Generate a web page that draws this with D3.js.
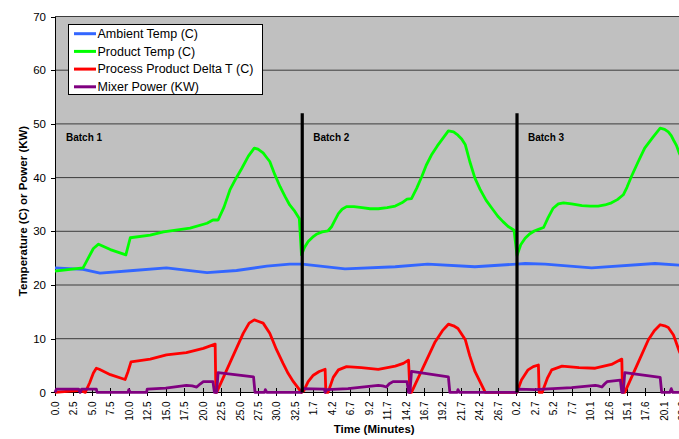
<!DOCTYPE html>
<html>
<head>
<meta charset="utf-8">
<script src="https://cdn.jsdelivr.net/npm/d3@7"></script>
<style>
	body { margin: 0; background: #fff; }
	svg { display: block; font-family: "Liberation Sans", Arial, sans-serif; }
	.plot-background { fill: #c0c0c0; }
	.grid line { stroke: #3c3c3c; stroke-width: 1; }
	.axis path, .axis line { stroke: #000; stroke-width: 1; shape-rendering: crispEdges; }
	.axis text { fill: #000; }
	.series { fill: none; stroke-width: 2.8; stroke-linejoin: round; }
	.batch-line { stroke: #000; stroke-width: 3.2; }
	.batch-label { font-size: 10px; font-weight: bold; }
	.axis-title { font-size: 11.5px; font-weight: bold; }
	.legend-box { fill: #fff; stroke: #000; stroke-width: 1; }
	.legend text { font-size: 12.5px; }
</style>
</head>
<body>
<svg id="plot" width="679" height="439"></svg>
<script>

// tick labels, one every 25 samples (time in minutes, restarts each batch)
const TIME_LABELS = ['0.0', '2.5', '5.0', '7.5', '10.0', '12.5', '15.0', '17.5', '20.0', '22.5', '25.0', '27.5', '30.0', '32.5',
	'1.7', '4.2', '6.7', '9.2', '11.7', '14.2', '16.7', '19.2', '21.7', '24.2', '26.7',
	'0.2', '2.7', '5.2', '7.7', '10.1', '12.6', '15.1', '17.6', '20.1', '22.6'];
const SAMPLES_PER_LABEL = 25;
const SAMPLE_COUNT = 865;

const Y_TICKS = [0, 10, 20, 30, 40, 50, 60, 70];

const BATCH_NAMES = ['Batch 1', 'Batch 2', 'Batch 3'];
const BATCH_STARTS = [0, 335, 626];   // sample index where each batch begins
const BATCH_LINE_TOP = 52;            // value at which the separator lines stop

const SERIES_NAMES = ['Ambient Temp (C)', 'Product Temp (C)', 'Process Product Delta T (C)', 'Mixer Power (KW)'];
const SERIES_COLORS = ['#3366ff', '#00ff00', '#ff0000', '#800080'];

// [sample index, value]
const AMBIENT = [[0, 23.2], [38, 22.9], [61, 22.2], [106, 22.7], [151, 23.2], [206, 22.3], [246, 22.7], [287, 23.5],
	[318, 23.9], [335, 23.9], [393, 23.0], [461, 23.4], [505, 23.9], [569, 23.4], [626, 23.9], [637, 24.0],
	[664, 23.9], [727, 23.2], [813, 24.0], [846, 23.7], [865, 23.6]];

const PRODUCT = [[0, 22.6], [38, 23.2], [52, 26.8], [59, 27.6], [75, 26.6], [96, 25.6], [102, 28.8], [129, 29.3],
	[147, 29.9], [183, 30.6], [206, 31.5], [214, 32.1], [221, 32.1], [229, 34.5], [237, 37.7], [245, 39.8],
	[253, 41.7], [262, 44.0], [270, 45.5], [275, 45.3], [282, 44.6], [287, 43.7], [291, 43.0], [298, 40.5],
	[305, 38.3], [312, 36.4], [318, 34.9], [325, 33.7], [331, 32.4],
	[334, 25.6], [338, 27.0], [343, 28.1], [349, 28.9], [355, 29.5], [362, 29.9], [370, 30.1], [375, 30.9],
	[379, 32.0], [384, 33.3], [389, 34.1], [395, 34.6], [405, 34.6], [416, 34.4], [427, 34.2], [438, 34.2],
	[450, 34.4], [461, 34.7], [470, 35.3], [477, 36.0], [483, 36.1], [490, 38.0], [497, 40.2], [503, 42.3],
	[510, 44.2], [518, 45.9], [526, 47.4], [533, 48.7], [540, 48.5], [546, 47.9], [551, 47.2], [556, 46.1],
	[562, 43.0], [569, 39.9], [576, 37.8], [584, 35.8], [592, 34.3], [600, 32.8], [607, 31.8], [614, 30.9],
	[622, 30.2],
	[626, 25.5], [631, 27.5], [637, 28.7], [643, 29.5], [650, 30.1], [656, 30.4], [662, 30.7], [668, 32.5],
	[675, 34.3], [682, 35.1], [689, 35.3], [700, 35.1], [714, 34.8], [725, 34.7], [736, 34.7], [745, 34.9],
	[754, 35.3], [762, 35.9], [770, 36.8], [775, 38.2], [781, 40.2], [790, 42.9], [799, 45.5], [810, 47.5],
	[820, 49.2], [826, 49.0], [831, 48.5], [835, 47.8], [838, 47.0], [842, 46.0], [846, 44.5], [855, 42.0],
	[865, 39.5]];

const DELTA = [[0, 0], [34, 0.4], [41, 0], [47, 1.8], [52, 3.6], [56, 4.5], [60, 4.3], [75, 3.3], [95, 2.4],
	[99, 3.9], [103, 5.7], [129, 6.2], [151, 7.0], [178, 7.4], [201, 8.2], [217, 9.0], [218, 0], [219, 0],
	[237, 5.5], [255, 11.0], [263, 12.9], [270, 13.5], [276, 13.2], [282, 12.9], [291, 11.0], [300, 8.0],
	[309, 5.4], [316, 3.5], [323, 2.0], [334, 0],
	[337, 0.3], [343, 2.0], [350, 3.2], [358, 3.9], [366, 4.3], [367, 0], [370, 0], [377, 2.8], [384, 4.2],
	[395, 4.8], [415, 4.6], [438, 4.3], [461, 4.9], [472, 5.4], [479, 6.0], [481, 0], [483, 0], [499, 4.7],
	[515, 9.4], [525, 11.5], [533, 12.7], [540, 12.4], [546, 11.9], [556, 9.8], [562, 6.8], [569, 3.9],
	[583, 0], [626, 0],
	[629, 1.2], [632, 2.3], [641, 4.2], [648, 4.8], [655, 5.1], [656, 0], [660, 0], [667, 2.6], [673, 4.2],
	[687, 4.9], [710, 4.6], [732, 4.5], [754, 5.2], [768, 6.2], [769, 0], [772, 0], [788, 4.9], [804, 9.8],
	[812, 11.5], [820, 12.6], [826, 12.4], [831, 12.1], [838, 10.7], [846, 7.6], [855, 5.0], [865, 3.0]];

const MIXER = [[0, 0], [2, 0.6], [32, 0.6], [34, 0], [36, 0.6], [56, 0.6], [57, 0], [99, 0], [100, 0.5], [102, 0],
	[124, 0], [125, 0.6], [150, 0.8], [178, 1.3], [186, 1.2], [192, 1.0], [197, 1.6], [201, 2.0], [214, 2.0],
	[216, 0], [219, 0], [221, 3.7], [269, 2.9], [271, 0], [284, 0], [285, 0.5], [287, 0], [334, 0],
	[335, 0.7], [365, 0.6], [366, 0], [368, 0.5], [397, 0.7], [438, 1.3], [444, 1.2], [449, 1.0], [453, 1.6],
	[458, 2.0], [477, 2.0], [479, 0], [481, 0], [483, 3.9], [533, 2.9], [535, 0], [545, 0], [546, 0.5],
	[548, 0], [626, 0],
	[627, 0.6], [650, 0.5], [700, 0.9], [732, 1.3], [736, 1.2], [741, 1.0], [745, 1.6], [748, 2.0], [766, 2.3],
	[768, 0], [770, 0], [772, 3.7], [820, 2.8], [822, 0], [833, 0], [835, 0.7], [837, 0], [865, 0]];

const SERIES = [AMBIENT, PRODUCT, DELTA, MIXER];

const svg = d3.select('#plot');

// plot area runs a bit past the right edge of the picture, as in the original
const area = { left: 55, right: 693.4, top: 16.5, bottom: 392.4 };

const x = d3.scaleLinear()
	.domain([0, SAMPLE_COUNT])
	.range([area.left, area.right]);

const y = d3.scaleLinear()
	.domain([0, 70])
	.range([area.bottom, area.top]);

svg.append('rect')
	.classed('plot-background', true)
	.attr('x', area.left)
	.attr('y', area.top)
	.attr('width', area.right - area.left)
	.attr('height', area.bottom - area.top);

// horizontal gridlines
svg.append('g')
	.classed('grid', true)
	.selectAll('line')
	.data(Y_TICKS.filter(d => d > 0))
	.enter()
	.append('line')
		.attr('x1', area.left)
		.attr('x2', area.right)
		.attr('y1', d => y(d))
		.attr('y2', d => y(d));

// y axis
svg.append('g')
	.classed('axis', true)
	.attr('transform', `translate(${area.left},0)`)
	.call(d3.axisLeft(y).tickValues(Y_TICKS).tickSize(4).tickSizeOuter(0).tickPadding(5))
	.selectAll('text')
		.style('font-size', '11.5px')
		.style('font-family', '"Liberation Sans", Arial, sans-serif');

// x axis: a label every 25 samples, text turned upright
const tick_samples = TIME_LABELS.map((d, i) => i * SAMPLES_PER_LABEL);
const x_axis = svg.append('g')
	.classed('axis', true)
	.attr('transform', `translate(0,${area.bottom})`)
	.call(d3.axisBottom(x)
		.tickValues(tick_samples)
		.tickFormat((d, i) => TIME_LABELS[i])
		.tickSize(4)
		.tickSizeOuter(0));

x_axis.selectAll('.tick line').attr('y1', -4);
x_axis.selectAll('text')
	.attr('transform', 'rotate(-90)')
	.attr('x', -9)
	.attr('y', 0)
	.attr('dy', '0.35em')
	.attr('text-anchor', 'end')
	.style('font-size', '10px')
	.style('font-family', '"Liberation Sans", Arial, sans-serif');

// series, in legend order so the mixer power ends up on top
const line = d3.line()
	.x(d => x(d[0]))
	.y(d => y(d[1]));

svg.append('g')
	.selectAll('path')
	.data(SERIES)
	.enter()
	.append('path')
		.classed('series', true)
		.attr('d', line)
		.attr('stroke', (d, i) => SERIES_COLORS[i]);

// batch separators and names
svg.append('g')
	.selectAll('line')
	.data(BATCH_STARTS.slice(1))
	.enter()
	.append('line')
		.classed('batch-line', true)
		.attr('x1', d => x(d))
		.attr('x2', d => x(d))
		.attr('y1', y(BATCH_LINE_TOP))
		.attr('y2', y(0));

svg.append('g')
	.selectAll('text')
	.data(BATCH_NAMES)
	.enter()
	.append('text')
		.classed('batch-label', true)
		.text(d => d)
		.attr('x', (d, i) => (i === 0 ? area.left : x(BATCH_STARTS[i])) + 11)
		.attr('y', 140.7);

// axis titles
svg.append('text')
	.classed('axis-title', true)
	.attr('text-anchor', 'middle')
	.attr('transform', 'translate(27,211) rotate(-90)')
	.text('Temperature (C) or Power (KW)');

svg.append('text')
	.classed('axis-title', true)
	.attr('text-anchor', 'middle')
	.attr('x', (area.left + area.right) / 2)
	.attr('y', 433)
	.text('Time (Minutes)');

// legend
const legend = svg.append('g').classed('legend', true);
legend.append('rect')
	.classed('legend-box', true)
	.attr('x', 68.5)
	.attr('y', 24.5)
	.attr('width', 194)
	.attr('height', 70);

const rows = legend.selectAll('g.row')
	.data(SERIES_NAMES)
	.enter()
	.append('g')
		.classed('row', true)
		.attr('transform', (d, i) => `translate(0,${33.7 + i * 17.7})`);

rows.append('line')
	.attr('x1', 74)
	.attr('x2', 96)
	.attr('stroke', (d, i) => SERIES_COLORS[i])
	.attr('stroke-width', 3);

rows.append('text')
	.attr('x', 97.5)
	.attr('dy', '0.35em')
	.text(d => d);

</script>
</body>
</html>
